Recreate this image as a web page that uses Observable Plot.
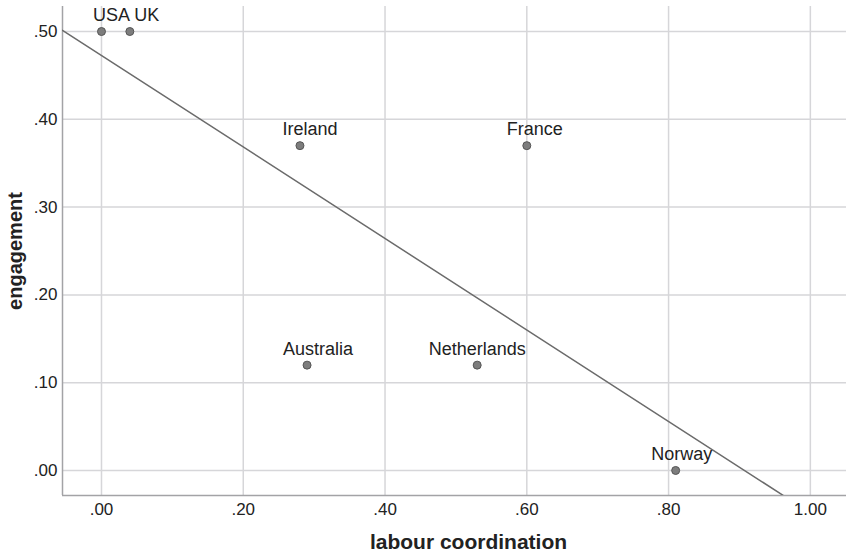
<!DOCTYPE html>
<html>
<head>
<meta charset="utf-8">
<script src="https://cdn.jsdelivr.net/npm/d3@7"></script>
<script src="https://cdn.jsdelivr.net/npm/@observablehq/plot@0.6"></script>
<style>
  html, body { margin: 0; padding: 0; background: #fff; }
  #chart { width: 846px; height: 555px; }
</style>
</head>
<body>
<div id="chart"></div>
<script>
const countries = ["USA", "UK", "Ireland", "France", "Australia", "Netherlands", "Norway"];
const labourCoordination = [0.00, 0.04, 0.28, 0.60, 0.29, 0.53, 0.81];
const engagement = [0.50, 0.50, 0.37, 0.37, 0.12, 0.12, 0.00];
const xTicks = [0, 0.2, 0.4, 0.6, 0.8, 1.0];
const yTicks = [0, 0.1, 0.2, 0.3, 0.4, 0.5];
const xDomain = [-0.055, 1.051];
const yDomain = [-0.0285, 0.5285];

const data = countries.map((c, i) => ({country: c, x: labourCoordination[i], y: engagement[i]}));

// ordinary least squares fit
const mx = d3.mean(data, d => d.x), my = d3.mean(data, d => d.y);
const slope = d3.sum(data, d => (d.x - mx) * (d.y - my)) / d3.sum(data, d => (d.x - mx) ** 2);
const intercept = my - slope * mx;
const fit = xDomain.map(x => ({x, y: intercept + slope * x}));

// label nudges (styling only)
const labelDx = {USA: 10, UK: 17, Ireland: 10, France: 8, Australia: 11, Netherlands: 0, Norway: 6};

const fmt = d => d3.format(".2f")(d).replace(/^0\./, ".");
const font = "Liberation Sans, Arial, Helvetica, sans-serif";

const chart = Plot.plot({
  width: 846,
  height: 555,
  marginLeft: 62,
  marginRight: 0,
  marginTop: 6,
  marginBottom: 60,
  style: {fontFamily: font, background: "#fff"},
  x: {domain: xDomain},
  y: {domain: yDomain},
  marks: [
    Plot.gridX(xTicks, {stroke: "#d6d6d9", strokeOpacity: 1, strokeWidth: 1.5}),
    Plot.gridY(yTicks, {stroke: "#d6d6d9", strokeOpacity: 1, strokeWidth: 1.5}),
    Plot.ruleX([xDomain[0]], {stroke: "#a3a3a6", strokeWidth: 1.5}),
    Plot.ruleY([yDomain[0]], {stroke: "#a3a3a6", strokeWidth: 1.5}),
    Plot.axisX(xTicks, {tickSize: 0, tickPadding: 7, tickFormat: fmt, fontSize: 17, fill: "#222", label: null}),
    Plot.axisY(yTicks, {tickSize: 0, tickPadding: 5, tickFormat: fmt, fontSize: 17, fill: "#222", label: null}),
    Plot.line(fit, {x: "x", y: "y", stroke: "#6b6b6b", strokeWidth: 1.5, clip: true}),
    Plot.dot(data, {x: "x", y: "y", r: 4, fill: "#7d7d7d", stroke: "#555", strokeWidth: 1}),
    ...data.map(d => Plot.text([d], {x: "x", y: "y", text: "country", dy: -16, dx: labelDx[d.country], fontSize: 18, fill: "#222"})),
    Plot.text(["labour coordination"], {frameAnchor: "bottom", textAnchor: "middle", dx: 14, dy: 53, fontSize: 21, fontWeight: "bold", fill: "#222"}),
    Plot.text(["engagement"], {frameAnchor: "left", textAnchor: "middle", dx: -47, rotate: -90, fontSize: 20, fontWeight: "bold", fill: "#222"})
  ]
});
document.getElementById("chart").appendChild(chart);
</script>
</body>
</html>
